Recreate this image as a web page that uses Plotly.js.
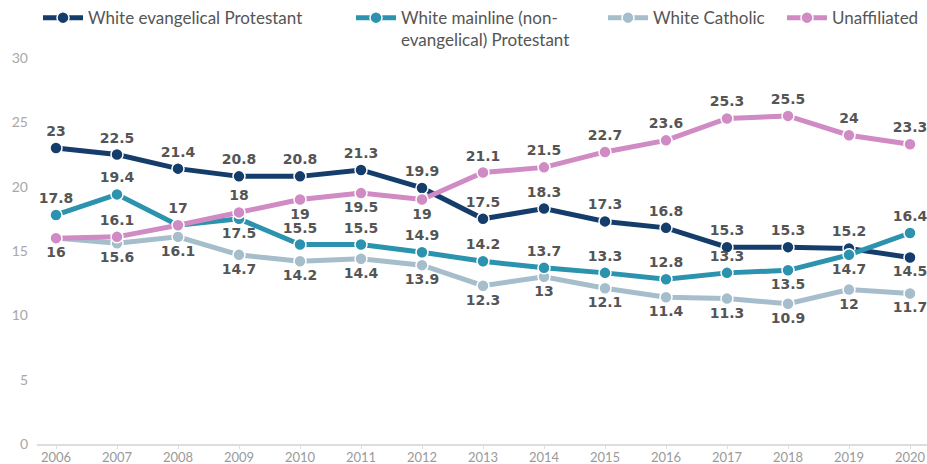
<!DOCTYPE html>
<html>
<head>
<meta charset="utf-8">
<script src="https://cdn.plot.ly/plotly-3.0.1.min.js"></script>
<style>html,body{margin:0;padding:0;background:#fff;overflow:hidden;}</style>
</head>
<body>
<div id="chart" style="width:927px;height:464px;"></div>
<script>
// ---- data ----
const years = [2006, 2007, 2008, 2009, 2010, 2011, 2012, 2013, 2014, 2015, 2016, 2017, 2018, 2019, 2020];
const seriesNames = ["White evangelical Protestant", "White mainline (non-<br>evangelical) Protestant", "White Catholic", "Unaffiliated"];
const evangelical = [23, 22.5, 21.4, 20.8, 20.8, 21.3, 19.9, 17.5, 18.3, 17.3, 16.8, 15.3, 15.3, 15.2, 14.5];
const mainline = [17.8, 19.4, 17, 17.5, 15.5, 15.5, 14.9, 14.2, 13.7, 13.3, 12.8, 13.3, 13.5, 14.7, 16.4];
const catholic = [16, 15.6, 16.1, 14.7, 14.2, 14.4, 13.9, 12.3, 13, 12.1, 11.4, 11.3, 10.9, 12, 11.7];
const unaffiliated = [16, 16.1, 17, 18, 19, 19.5, 19, 21.1, 21.5, 22.7, 23.6, 25.3, 25.5, 24, 23.3];
const yTicks = [0, 5, 10, 15, 20, 25, 30];

// ---- label placement (style): T = above, B = below, '' = hidden ----
const posEvangelical = ['T','T','T','T','T','T','T','T','T','T','T','T','T','T','B'];
const posMainline    = ['T','T','','B','T','T','T','T','T','T','T','T','B','B','T'];
const posCatholic    = ['B','B','B','B','B','B','B','B','B','B','B','B','B','B','B'];
const posUnaffil     = ['','T','T','T','B','B','B','T','T','T','T','T','T','T','T'];

const colors = ['#143d6b', '#2b93ad', '#a6bdcb', '#d08ac4'];

function makeTrace(vals, pos, name, color, legendId) {
  return {
    x: years, y: vals, name: name,
    type: 'scatter', mode: 'lines+markers+text',
    line: {color: color, width: 5},
    marker: {color: color, size: 12, line: {color: '#ffffff', width: 1.5}},
    text: vals.map((v, i) => pos[i] ? String(v) : ''),
    textposition: pos.map(p => p === 'B' ? 'bottom center' : 'top center'),
    textfont: {family: 'DejaVu Sans', size: 14, color: '#555555', weight: 'bold'},
    cliponaxis: false,
    legend: legendId,
    hoverinfo: 'skip'
  };
}

const traces = [
  makeTrace(catholic, posCatholic, seriesNames[2], colors[2], 'legend3'),
  makeTrace(evangelical, posEvangelical, seriesNames[0], colors[0], 'legend'),
  makeTrace(mainline, posMainline, seriesNames[1], colors[1], 'legend2'),
  makeTrace(unaffiliated, posUnaffil, seriesNames[3], colors[3], 'legend4')
];

const legFont = {family: 'Lato', size: 17, color: '#555555'};
function leg(xpx) {
  return {orientation: 'h', x: (xpx - 37) / 890, xanchor: 'left', y: 1.15, yanchor: 'top',
          font: legFont, bgcolor: 'rgba(0,0,0,0)', valign: 'top', itemwidth: 40};
}

const layout = {
  width: 927, height: 464,
  margin: {l: 37, r: 0, t: 56, b: 20},
  paper_bgcolor: '#ffffff', plot_bgcolor: '#ffffff',
  showlegend: true,
  legend: leg(38), legend2: leg(351), legend3: leg(603), legend4: leg(782),
  xaxis: {
    range: [2006 - 19/61, 2020 + 17/61],
    tickmode: 'array', tickvals: years, ticktext: years.map(String),
    showgrid: false, zeroline: false,
    showline: true, linecolor: '#dddddd', linewidth: 2,
    ticks: 'outside', ticklen: 3, tickcolor: '#dddddd', tickwidth: 1,
    tickfont: {family: 'Lato', size: 13, color: '#9a9a9a'},
    ticklabelstandoff: -3,
    fixedrange: true
  },
  yaxis: {
    range: [0, 30],
    tickmode: 'array', tickvals: yTicks, ticktext: yTicks.map(String),
    showgrid: false, zeroline: false, showline: false,
    tickfont: {family: 'Lato', size: 14, color: '#a8a8a8'},
    ticklabelstandoff: 8,
    fixedrange: true
  }
};

Plotly.newPlot('chart', traces, layout, {displayModeBar: false, staticPlot: true});
</script>
</body>
</html>
